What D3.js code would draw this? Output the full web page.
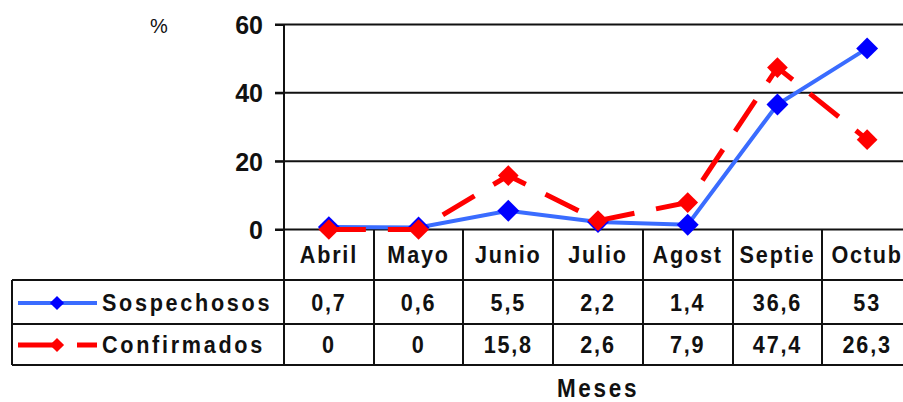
<!DOCTYPE html>
<html>
<head>
<meta charset="utf-8">
<script src="https://cdn.jsdelivr.net/npm/d3@7"></script>
<style>
  body { margin: 0; background: #fff; }
  text { font-family: "Liberation Sans", Arial, sans-serif; font-weight: bold; fill: #111; }
</style>
</head>
<body>
<svg id="chart" width="903" height="402"></svg>
<script>
var months = ["Abril", "Mayo", "Junio", "Julio", "Agost", "Septie", "Octub"];
var sospechosos = [0.7, 0.6, 5.5, 2.2, 1.4, 36.6, 53];
var confirmados = [0, 0, 15.8, 2.6, 7.9, 47.4, 26.3];
var yTicks = [0, 20, 40, 60];
var seriesNames = ["Sospechosos", "Confirmados"];

var svg = d3.select("#chart");
var fmt = d3.formatLocale({decimal: ",", thousands: ".", grouping: [3], currency: ["", ""]}).format(".4~g");

var x = d3.scaleBand().domain(months).range([284, 912]);
var y = d3.scaleLinear().domain([0, 60]).range([229.5, 24.5]);

var rows = [280, 324, 365];   // table row lines
var rowMid = [254, 302, 344];

// narrow text like the old bitmap font
function label(g, tx, ty, str, size, ls, anchor) {
  return g.append("text")
    .attr("transform", "translate(" + tx + "," + ty + ") scale(0.9,1)")
    .attr("text-anchor", anchor || "middle")
    .attr("font-size", size).attr("letter-spacing", ls)
    .text(str);
}

// gridlines + y ticks
svg.append("g").selectAll("line").data(yTicks.filter(d => d > 0)).join("line")
  .attr("x1", 275).attr("x2", 903)
  .attr("y1", d => y(d)).attr("y2", d => y(d))
  .attr("stroke", "#111").attr("stroke-width", 2);

var yAxis = d3.axisLeft(y).tickValues(yTicks).tickSize(9).tickPadding(12).tickFormat(d => d);
var ga = svg.append("g").attr("transform", "translate(284,0)").call(yAxis);
ga.select(".domain").remove();
ga.selectAll(".tick line").attr("stroke", "#111").attr("stroke-width", 2);
ga.selectAll(".tick text").attr("font-size", 25)
  .attr("font-family", "Liberation Sans, Arial, sans-serif").attr("font-weight", "bold")
  .attr("fill", "#111").attr("dy", "0.36em");

// x axis line (top of table) and table lines
svg.append("line").attr("x1", 275).attr("x2", 903).attr("y1", y(0)).attr("y2", y(0))
  .attr("stroke", "#111").attr("stroke-width", 2);
rows.forEach(function(r) {
  svg.append("line").attr("x1", 12).attr("x2", 903).attr("y1", r).attr("y2", r)
    .attr("stroke", "#111").attr("stroke-width", 2);
});
svg.append("line").attr("x1", 12).attr("x2", 12).attr("y1", rows[0]).attr("y2", rows[2])
  .attr("stroke", "#111").attr("stroke-width", 2);
svg.append("line").attr("x1", 284).attr("x2", 284).attr("y1", y(60)).attr("y2", rows[2])
  .attr("stroke", "#111").attr("stroke-width", 2);
svg.append("g").selectAll("line").data(months.slice(1)).join("line")
  .attr("x1", d => Math.round(x(d))).attr("x2", d => Math.round(x(d)))
  .attr("y1", y(0)).attr("y2", rows[2])
  .attr("stroke", "#111").attr("stroke-width", 2);

// series
var cx = d => x(d) + x.bandwidth() / 2;
var line = d3.line().x(d => cx(d[0])).y(d => y(d[1]));
var diamond = d3.symbol().type(d3.symbolSquare).size(240);

svg.append("path").datum(months.map((m, i) => [m, sospechosos[i]]))
  .attr("d", line).attr("fill", "none").attr("stroke", "#3a6cff").attr("stroke-width", 4);
svg.append("g").selectAll("path").data(months).join("path")
  .attr("d", diamond)
  .attr("transform", (d, i) => "translate(" + cx(d) + "," + y(sospechosos[i]) + ") rotate(45)")
  .attr("fill", "#0000ff");

svg.append("path").datum(months.map((m, i) => [m, confirmados[i]]))
  .attr("d", line).attr("fill", "none").attr("stroke", "#ff0000").attr("stroke-width", 5)
  .attr("stroke-dasharray", "37,22");
svg.append("g").selectAll("path").data(months).join("path")
  .attr("d", d3.symbol().type(d3.symbolSquare).size(215))
  .attr("transform", (d, i) => "translate(" + cx(d) + "," + y(confirmados[i]) + ") rotate(45)")
  .attr("fill", "#ff0000");

// table text
var tg = svg.append("g");
months.forEach(function(m, i) {
  label(tg, cx(m), rowMid[0] + 8.5, m, 24, 2);
  label(tg, cx(m), rowMid[1] + 8.5, fmt(sospechosos[i]), 24, 2);
  label(tg, cx(m), rowMid[2] + 8.5, fmt(confirmados[i]), 24, 2);
});

// legend cells
var legColors = [["#3a6cff", "#0000ff", null, 4], ["#ff0000", "#ff0000", "37,22", 5]];
seriesNames.forEach(function(name, r) {
  var ly = rowMid[r + 1] + 1;
  svg.append("line").attr("x1", 18).attr("x2", 97).attr("y1", ly).attr("y2", ly)
    .attr("stroke", legColors[r][0]).attr("stroke-width", legColors[r][3])
    .attr("stroke-dasharray", legColors[r][2]);
  svg.append("path").attr("d", d3.symbol().type(d3.symbolSquare).size(100))
    .attr("transform", "translate(57," + ly + ") rotate(45)")
    .attr("fill", legColors[r][1]);
  label(svg, 102, rowMid[r + 1] + 8.5, name, 24, 3, "start");
});

// axis titles
svg.append("text").attr("x", 159).attr("y", 33).attr("text-anchor", "middle")
  .attr("font-size", 20).style("font-weight", "normal")
  .attr("fill", "#333").text("%");
label(svg, 598, 397, "Meses", 25, 3);
</script>
</body>
</html>
